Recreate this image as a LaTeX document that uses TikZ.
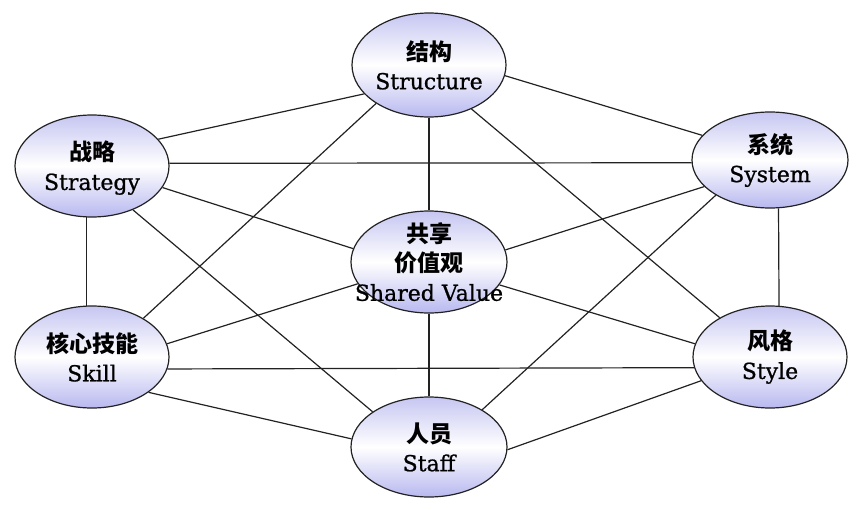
\documentclass[tikz,border=0pt]{standalone}
\usepackage{fontspec}
\setmainfont{DejaVu Serif}[BoldFont={DejaVu Serif},BoldFeatures={FakeBold=0.9}]
\newfontfamily\cjk{Noto Sans CJK SC Bold}
\usetikzlibrary{shapes.geometric,backgrounds}
\definecolor{lav}{RGB}{184,184,240}
\definecolor{lavtop}{RGB}{198,198,242}
\definecolor{edge}{RGB}{34,34,34}
\newcommand{\zh}[1]{{\cjk\fontsize{23}{29}\selectfont #1}}
\begin{document}
\begin{tikzpicture}[x=1pt,y=-1pt,
  bub/.style={ellipse, draw=edge, line width=1.2pt, top color=lavtop, bottom color=lav, middle color=white, inner sep=0pt},
  txt/.style={align=center, font=\fontsize{22}{29}\selectfont\bfseries, inner sep=0pt, text=black},
  link/.style={draw=edge, line width=1.2pt}]
\useasboundingbox (0,0) rectangle (865,509);
% ellipses
\node[bub, minimum width=154, minimum height=104] (structure) at (429,65) {};
\node[bub, minimum width=154, minimum height=102] (strategy) at (92,166) {};
\node[bub, minimum width=156, minimum height=96] (system) at (770,160) {};
\node[bub, minimum width=156, minimum height=102] (shared) at (429,262) {};
\node[bub, minimum width=154, minimum height=102] (skill) at (92,357) {};
\node[bub, minimum width=154, minimum height=102] (style) at (770,357) {};
\node[bub, minimum width=156, minimum height=100] (staff) at (429,447) {};
% texts
\node[txt] (structureT) at (structure.center) {\zh{结构}\\Structure};
\node[txt, yshift=-2pt] (strategyT) at (strategy.center) {\zh{战略}\\Strategy};
\node[txt] (systemT) at (system.center) {\zh{系统}\\System};
\node[txt] (sharedT) at (shared.center) {\zh{共享}\\\zh{价值观}\\Shared Value};
\node[txt] (skillT) at (skill.center) {\zh{核心技能}\\Skill};
\node[txt] (styleT) at (style.center) {\zh{风格}\\Style};
\node[txt] (staffT) at (staff.center) {\zh{人员}\\Staff};
% connectors
\begin{pgfonlayer}{background}
\draw[link] (strategy.22) -- (structure.204);
\draw[link] (structure.352) -- (system.160);
\draw[link] (structure.south) -- (shared.north);
\draw[link] (structure.216) -- (skill.37);
\draw[link] (structure.314) -- (style.142);
\draw[link] (strategy.2) -- (system.182);
\draw[link] (strategy.343) -- (shared.170);
\draw[link] (strategy.264) -- (skill.96);
\draw[link] (strategy.313) -- (staff.148);
\draw[link] (system.202) -- (shared.9);
\draw[link] (system.280) -- (style.80);
\draw[link] (system.213) -- (staff.35);
\draw[link] (shared.197) -- (skill.10);
\draw[link] (shared.342) -- (style.170);
\draw[link] (shared.south) -- (staff.north);
\draw[link] (skill.351) -- (style.188);
\draw[link] (skill.328) -- (staff.174);
\draw[link] (staff.358) -- (style.199);
\end{pgfonlayer}
\end{tikzpicture}
\end{document}
